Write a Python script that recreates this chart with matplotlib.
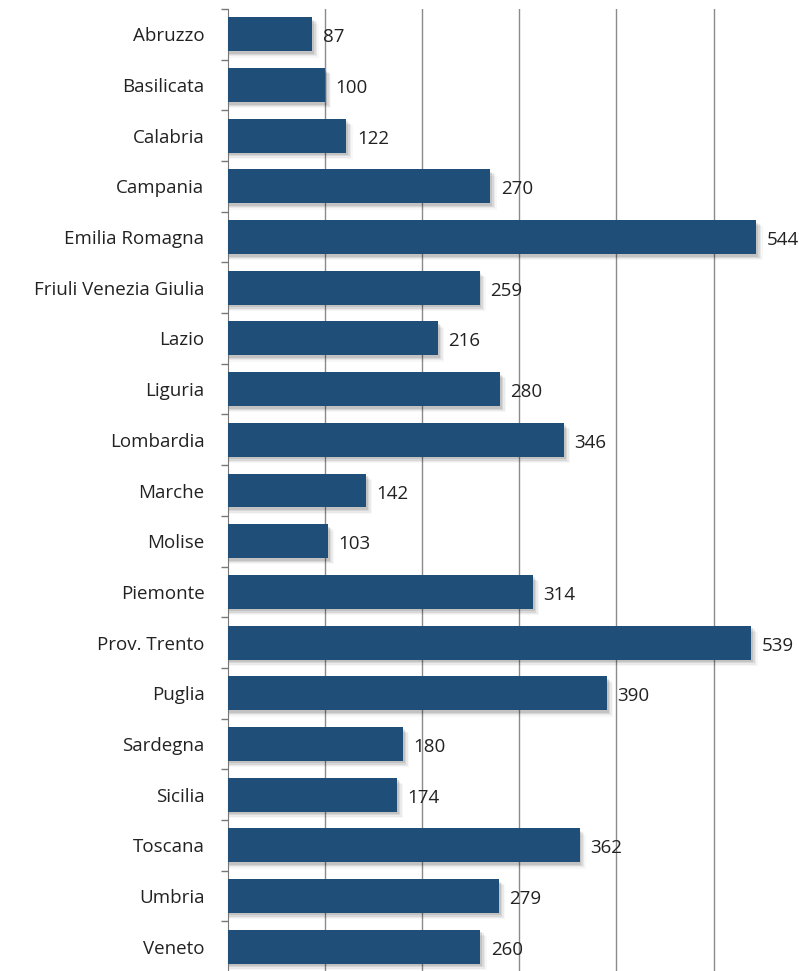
import numpy as np
import matplotlib
matplotlib.use("Agg")
import matplotlib.pyplot as plt
from matplotlib.ticker import FixedLocator, NullFormatter

regions = ["Abruzzo", "Basilicata", "Calabria", "Campania", "Emilia Romagna",
           "Friuli Venezia Giulia", "Lazio", "Liguria", "Lombardia", "Marche",
           "Molise", "Piemonte", "Prov. Trento", "Puglia", "Sardegna",
           "Sicilia", "Toscana", "Umbria", "Veneto"]
values = [87, 100, 122, 270, 544, 259, 216, 280, 346, 142,
          103, 314, 539, 390, 180, 174, 362, 279, 260]

plt.rcParams["font.family"] = ["Open Sans", "DejaVu Sans"]

fig = plt.figure(figsize=(7.99, 9.71), dpi=100)
ax = fig.add_axes([228 / 799, -1 / 971, 1 - 228 / 799, 1 - 8 / 971])

y = np.arange(len(regions))
bar_h = 0.67

# soft drop shadow (offset right / down)
for k, a in enumerate([0.10, 0.07, 0.05, 0.03]):
    dx = 2 + k * 1.5
    dy = 0.05 + k * 0.025
    ax.barh(y + dy, [v + dx for v in values], height=bar_h, left=0,
            color="black", alpha=a, zorder=2)

ax.barh(y, values, height=bar_h, color="#1F4E79", zorder=3)

for yi, v in zip(y, values):
    ax.text(v + 11, yi + 0.06, str(v), va="center", ha="left",
            fontsize=13.5, color="#222222", zorder=4)

ax.set_xlim(0, 588)
ax.set_ylim(len(regions) - 0.5, -0.5)

ax.set_xticks([100, 200, 300, 400, 500])
ax.xaxis.grid(True, color="#8a8a8a", linewidth=1.0, zorder=0)
ax.tick_params(axis="x", length=0, labelbottom=False)

ax.set_yticks(y)
ax.set_yticklabels(regions, fontsize=13.5, color="#222222")
ax.tick_params(axis="y", which="major", length=0, pad=17)
ax.yaxis.set_minor_locator(FixedLocator(np.arange(-0.5, len(regions), 1)))
ax.yaxis.set_minor_formatter(NullFormatter())
ax.tick_params(axis="y", which="minor", length=5, color="#777777", width=1)

for s in ["top", "right", "bottom"]:
    ax.spines[s].set_visible(False)
ax.spines["left"].set_color("#777777")
ax.set_axisbelow(True)

fig.savefig("out.png", dpi=100)
